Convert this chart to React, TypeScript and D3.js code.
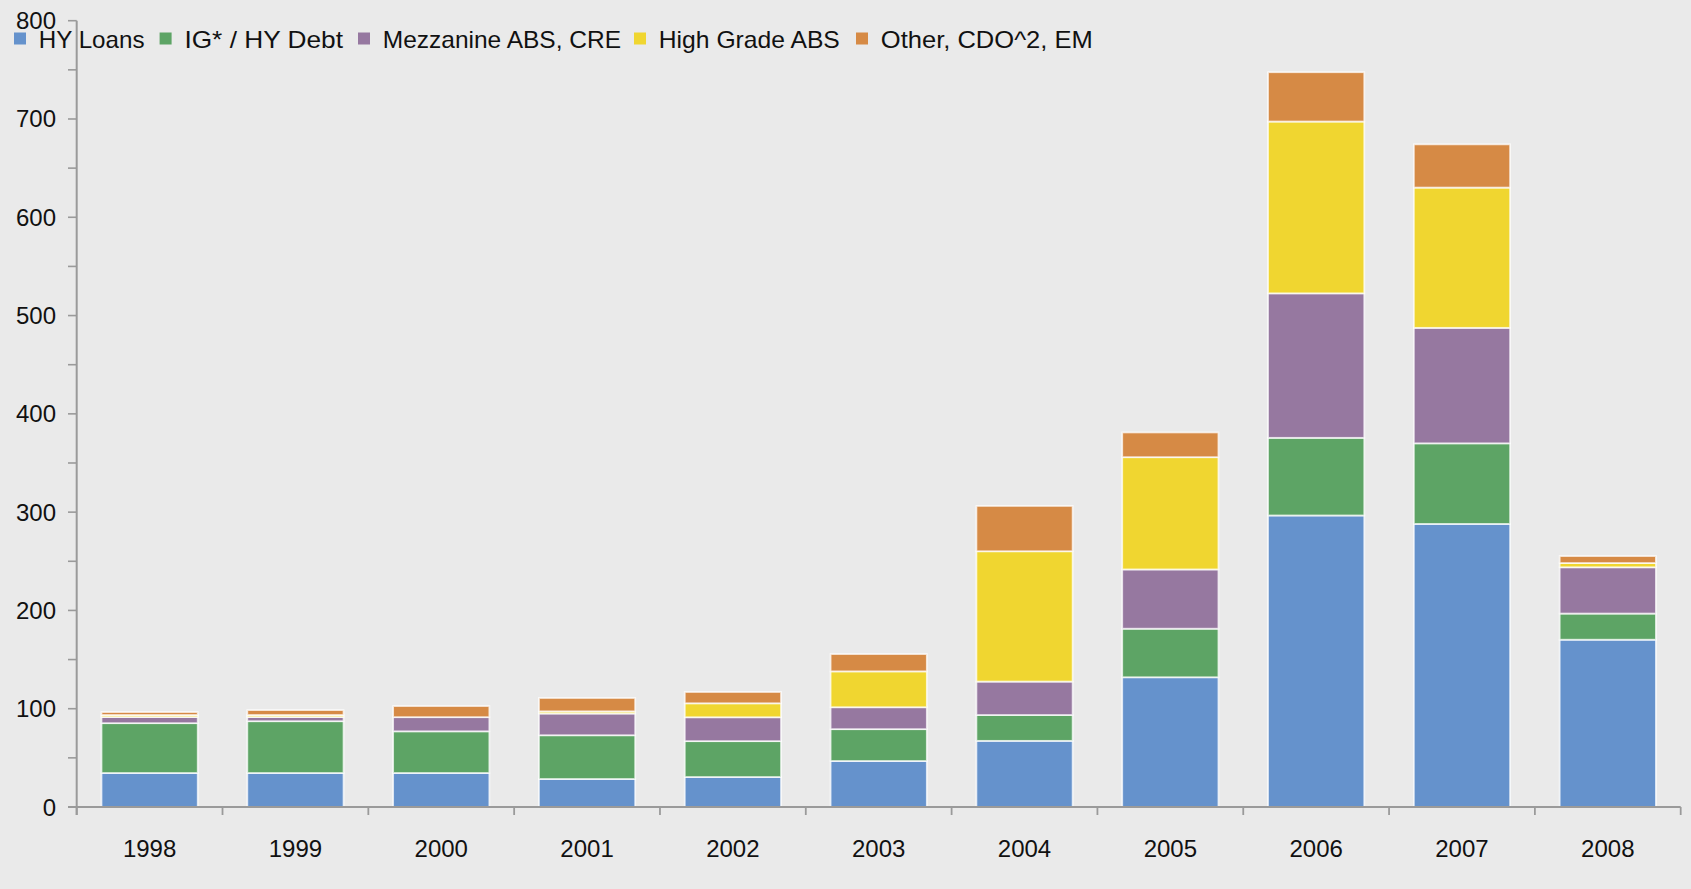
import React from "react";
import * as d3 from "d3";

const years = ["1998","1999","2000","2001","2002","2003","2004","2005","2006","2007","2008"];
const seriesNames = ["HY Loans","IG* / HY Debt","Mezzanine ABS, CRE","High Grade ABS","Other, CDO^2, EM"];
const hyLoans   = [34.6, 34.6, 34.6, 28.5, 30.5, 46.8, 67.3, 132.0, 296.6, 288.0, 170.2];
const igHyDebt  = [50.7, 52.7, 42.4, 44.5, 36.5, 32.4, 26.3, 49.4, 79.0, 82.0, 26.6];
const mezzABS   = [6.2, 4.2, 14.4, 22.1, 24.3, 22.3, 34.0, 60.3, 147.0, 117.5, 47.1];
const highGrade = [2.1, 2.1, 0.0, 2.2, 14.2, 36.5, 132.6, 114.2, 174.8, 142.7, 4.3];
const otherCDO  = [3.0, 5.0, 11.3, 13.6, 11.5, 17.6, 46.1, 25.2, 50.2, 44.0, 7.1];
const yTicks = [0,100,200,300,400,500,600,700,800];
const yMinorTicks = [50,150,250,350,450,550,650,750];

const colors = ["#6592CC","#5DA465","#9678A0","#F0D630","#D68A45"];
const W = 1691, H = 889;
const FONT = "'Liberation Sans', Arial, sans-serif";

export default function App() {
  const seriesValues = [hyLoans, igHyDebt, mezzABS, highGrade, otherCDO];
  const rows = years.map((yr, i) => {
    const r: any = { year: yr };
    seriesNames.forEach((s, k) => (r[s] = seriesValues[k][i]));
    return r;
  });
  const stack = d3.stack().keys(seriesNames)(rows as any);
  const x = d3.scaleBand().domain(years).range([76.7, 1680.7]).paddingInner(0.34).paddingOuter(0.17);
  const y = d3.scaleLinear().domain([0, 800]).range([807, 20.7]);
  const axisColor = "#9a9a9a";
  const boundaries = years.map((yr) => x(yr)! - (x.step() * 0.17)).concat([1680.7]);

  const legendX = [14, 159.6, 358, 634, 856];
  const legendW = [105.7, 158.6, 238.2, 181, 212];

  return (
    <div style={{ position: "fixed", left: 0, top: 0 }}>
      <svg width={W} height={H} style={{ display: "block" }}>
        <rect x={0} y={0} width={W} height={H} fill="#EAEAEA" />
        {stack.map((layer, k) => (
          <g key={k} fill={colors[k]}>
            {layer.map((d: any, i: number) => {
              const h = y(d[0]) - y(d[1]);
              if (h <= 0) return null;
              return (
                <rect key={i} x={x(years[i])} y={y(d[1])} width={x.bandwidth()} height={h}
                  stroke="rgba(255,255,255,0.75)" strokeWidth={1.8} />
              );
            })}
          </g>
        ))}
        {/* y axis */}
        <line x1={76.7} x2={76.7} y1={y(800)} y2={815} stroke={axisColor} strokeWidth={2} />
        {yTicks.concat(yMinorTicks).map((t) => (
          <line key={"t" + t} x1={68} x2={76.7} y1={y(t)} y2={y(t)} stroke={axisColor} strokeWidth={1.6} />
        ))}
        {yTicks.map((t) => (
          <text key={"l" + t} x={56} y={y(t) + 8.5} textAnchor="end" fontFamily={FONT} fontSize={24} fill="#111">{t}</text>
        ))}
        {/* x axis */}
        <line x1={68} x2={1680.7} y1={807} y2={807} stroke={axisColor} strokeWidth={2.2} />
        {boundaries.map((bx, i) => (
          <line key={"b" + i} x1={bx} x2={bx} y1={807} y2={815} stroke={axisColor} strokeWidth={1.8} />
        ))}
        {years.map((yr) => (
          <text key={yr} x={x(yr)! + x.bandwidth() / 2} y={857} textAnchor="middle" fontFamily={FONT} fontSize={24} fill="#111">{yr}</text>
        ))}
        {/* legend */}
        {seriesNames.map((s, k) => (
          <g key={s}>
            <rect x={legendX[k]} y={32.5} width={12} height={12} fill={colors[k]} />
            <text x={legendX[k] + 24.8} y={48} fontFamily={FONT} fontSize={24} fill="#111"
              textLength={legendW[k]} lengthAdjust="spacingAndGlyphs">{s}</text>
          </g>
        ))}
      </svg>
    </div>
  );
}
